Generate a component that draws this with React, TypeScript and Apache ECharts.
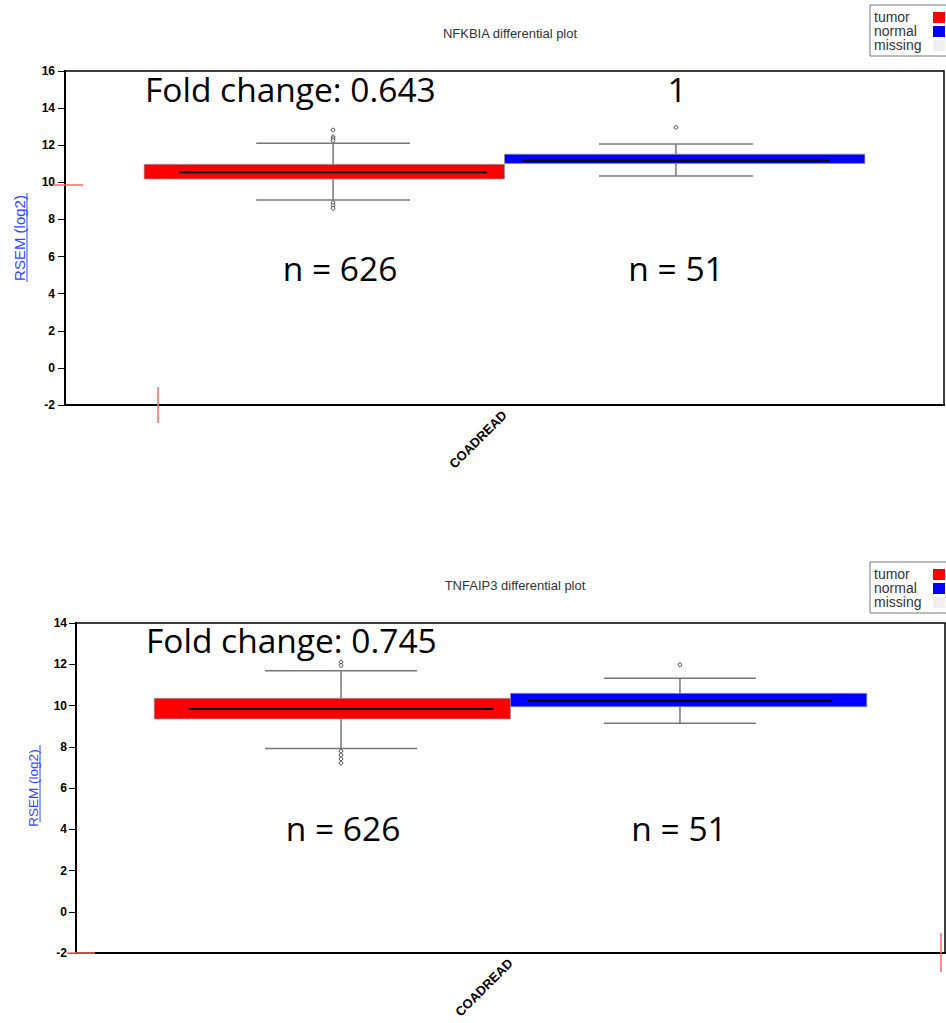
import React, { useEffect, useRef } from "react";
import * as echarts from "echarts";

// ---------- data ----------
const categories = ["COADREAD"];
const groupNames = ["tumor", "normal", "missing"];
const groupColors = ["#ff0000", "#0000ff", "#eeeeee"];

const plotTitles = ["NFKBIA differential plot", "TNFAIP3 differential plot"];
const yAxisName = "RSEM (log2)";
const yMins = [-2, -2];
const yMaxs = [16, 14];
const yInterval = 2;

// [whiskerLow, q1, median, q3, whiskerHigh]
const nfkbiaTumor = [9.05, 10.18, 10.54, 10.97, 12.1];
const nfkbiaNormal = [10.34, 11.02, 11.16, 11.52, 12.06];
const nfkbiaTumorOutliers = [12.82, 12.45, 12.35, 12.25, 8.9, 8.75, 8.6];
const nfkbiaNormalOutliers = [12.96];

const tnfaip3Tumor = [7.92, 9.35, 9.83, 10.35, 11.69];
const tnfaip3Normal = [9.14, 9.94, 10.23, 10.59, 11.32];
const tnfaip3TumorOutliers = [12.1, 11.94, 7.79, 7.6, 7.41, 7.21];
const tnfaip3NormalOutliers = [11.98];

const foldChangeLabels = ["Fold change: 0.643", "Fold change: 0.745"];
const topRightLabels = ["1", ""];
const tumorCounts = ["n = 626", "n = 626"];
const normalCounts = ["n = 51", "n = 51"];

// ---------- layout ----------
const grids = [
  { left: 65, top: 71, width: 879, height: 334 },
  { left: 76, top: 623, width: 869, height: 330 },
];

function boxSeries(name: string, values: number[], side: number, color: string, g: number) {
  return {
    type: "custom",
    name,
    xAxisIndex: g,
    yAxisIndex: g,
    itemStyle: { color },
    encode: { x: 0, y: [1, 2, 3, 4, 5] },
    data: [[0, ...values]],
    renderItem: (params: any, api: any) => {
      const cat = api.value(0);
      const band = api.size([1, 0])[0];
      const cx = api.coord([cat, 0])[0];
      const y = (i: number) => api.coord([cat, api.value(i)])[1];
      const low = y(1), q1 = y(2), med = y(3), q3 = y(4), high = y(5);
      const boxW = 0.41 * band;
      const boxL = side < 0 ? cx - boxW : cx;
      const wx = cx + side * 0.195 * band;
      const cap = 0.0875 * band;
      const mA = cx + side * 0.02 * band;
      const mB = cx + side * 0.37 * band;
      const ws = { stroke: "#777", lineWidth: 1.5 };
      return {
        type: "group",
        children: [
          { type: "line", shape: { x1: wx, y1: high, x2: wx, y2: q3 }, style: ws },
          { type: "line", shape: { x1: wx, y1: q1, x2: wx, y2: low }, style: ws },
          { type: "line", shape: { x1: wx - cap, y1: high, x2: wx + cap, y2: high }, style: ws },
          { type: "line", shape: { x1: wx - cap, y1: low, x2: wx + cap, y2: low }, style: ws },
          {
            type: "rect",
            shape: { x: boxL, y: q3, width: boxW, height: q1 - q3 },
            style: { fill: color, stroke: "rgba(150,150,150,0.7)", lineWidth: 1 },
          },
          {
            type: "line",
            shape: { x1: Math.min(mA, mB), y1: med, x2: Math.max(mA, mB), y2: med },
            style: { stroke: "#000", lineWidth: 2 },
          },
        ],
      };
    },
  };
}

function outlierSeries(name: string, values: number[], side: number, g: number) {
  return {
    type: "custom",
    name,
    xAxisIndex: g,
    yAxisIndex: g,
    encode: { x: 0, y: 1 },
    data: values.map((v) => [0, v]),
    renderItem: (params: any, api: any) => {
      const band = api.size([1, 0])[0];
      const p = api.coord([api.value(0), api.value(1)]);
      const wx = p[0] + side * 0.195 * band;
      return {
        type: "circle",
        shape: { cx: wx, cy: p[1], r: 1.8 },
        style: { fill: "#fff", stroke: "#444", lineWidth: 1 },
      };
    },
  };
}

function legendGraphic(top: number) {
  const left = 870;
  const items: any[] = [
    {
      type: "rect",
      shape: { x: left, y: top, width: 90, height: 51 },
      style: { fill: "#fff", stroke: "#777", lineWidth: 1 },
    },
  ];
  groupNames.forEach((n, i) => {
    items.push({
      type: "text",
      x: left + 4,
      y: top + 5 + i * 14,
      style: { text: n, font: "14px 'Liberation Sans', Arial, sans-serif", fill: "#333", textVerticalAlign: "top" },
    });
    items.push({
      type: "rect",
      shape: { x: left + 63, y: top + 7 + i * 14, width: 12, height: 11 },
      style: { fill: groupColors[i] },
    });
  });
  return { type: "group", children: items };
}

const bigFont = "33.5px 'Open Sans', Lato, sans-serif";

function bigText(text: string, x: number, y: number, align: string) {
  return {
    type: "text",
    x,
    y,
    z: 10,
    style: { text, font: bigFont, fill: "#000", textAlign: align, textVerticalAlign: "middle" },
  };
}

function redLine(x1: number, y1: number, x2: number, y2: number) {
  return {
    type: "line",
    z: 10,
    shape: { x1, y1, x2, y2 },
    style: { stroke: "#ff6666", lineWidth: 1.5 },
  };
}

export default function App() {
  const ref = useRef<HTMLDivElement>(null);
  useEffect(() => {
    if (!ref.current) return;
    const chart = echarts.init(ref.current, undefined, { renderer: "svg" });
    const axisFont = { fontFamily: "'Liberation Sans', Arial, sans-serif" };
    const option: any = {
      animation: false,
      backgroundColor: "#fff",
      title: [
        {
          text: plotTitles[0],
          left: 505,
          top: 22,
          textAlign: "center",
          textStyle: { fontSize: 13, fontWeight: "normal", color: "#333", ...axisFont },
        },
        {
          text: plotTitles[1],
          left: 510,
          top: 574,
          textAlign: "center",
          textStyle: { fontSize: 13, fontWeight: "normal", color: "#333", ...axisFont },
        },
      ],
      grid: grids.map((g) => ({ ...g, show: true, borderColor: "#000", borderWidth: 1.5, backgroundColor: "transparent" })),
      xAxis: grids.map((g, i) => ({
        type: "category",
        gridIndex: i,
        data: categories,
        axisLine: { onZero: false, lineStyle: { color: "#000", width: 2 } },
        axisTick: { alignWithLabel: true, length: 5, lineStyle: { color: "#555" } },
        axisLabel: { rotate: 45, margin: 8, fontSize: 13, fontWeight: "bold", color: "#000", ...axisFont },
        splitLine: { show: false },
      })),
      yAxis: grids.map((g, i) => ({
        type: "value",
        gridIndex: i,
        min: yMins[i],
        max: yMaxs[i],
        interval: yInterval,
        name: yAxisName,
        nameLocation: "middle",
        nameRotate: 90,
        nameGap: i === 0 ? 38 : 36,
        nameTextStyle: { color: "#3344ff", fontSize: i === 0 ? 15 : 13.5, ...axisFont },
        axisLine: { show: true, onZero: false, lineStyle: { color: "#000", width: 2 } },
        axisTick: { show: true, length: 7, lineStyle: { color: "#000" } },
        axisLabel: { margin: i === 0 ? 10 : 9, fontSize: 12, fontWeight: "bold", color: "#000", ...axisFont },
        splitLine: { show: false },
      })),
      series: [
        boxSeries(groupNames[0], nfkbiaTumor, -1, groupColors[0], 0),
        boxSeries(groupNames[1], nfkbiaNormal, 1, groupColors[1], 0),
        outlierSeries("tumor outliers", nfkbiaTumorOutliers, -1, 0),
        outlierSeries("normal outliers", nfkbiaNormalOutliers, 1, 0),
        boxSeries(groupNames[0], tnfaip3Tumor, -1, groupColors[0], 1),
        boxSeries(groupNames[1], tnfaip3Normal, 1, groupColors[1], 1),
        outlierSeries("tumor outliers", tnfaip3TumorOutliers, -1, 1),
        outlierSeries("normal outliers", tnfaip3NormalOutliers, 1, 1),
      ],
      graphic: [
        legendGraphic(5),
        legendGraphic(562),
        // underline for axis names
        { type: "line", z: 10, shape: { x1: 27, y1: 193, x2: 27, y2: 282 }, style: { stroke: "#3344ff", lineWidth: 1 } },
        { type: "line", z: 10, shape: { x1: 40, y1: 745, x2: 40, y2: 822 }, style: { stroke: "#3344ff", lineWidth: 1 } },
        // red marks
        redLine(53, 185, 83, 185),
        redLine(158, 387, 158, 423),
        redLine(67, 953, 95, 953),
        redLine(941, 933, 941, 972),
        // annotations
        bigText(foldChangeLabels[0], 145, 89, "left"),
        bigText(topRightLabels[0], 677, 89, "center"),
        bigText(tumorCounts[0], 340, 268, "center"),
        bigText(normalCounts[0], 676, 268, "center"),
        bigText(foldChangeLabels[1], 146, 640, "left"),
        bigText(tumorCounts[1], 343, 828, "center"),
        bigText(normalCounts[1], 679, 828, "center"),
      ],
    };
    chart.setOption(option);
    return () => chart.dispose();
  }, []);
  return <div ref={ref} style={{ position: "absolute", left: 0, top: 0, width: 946, height: 1023 }} />;
}
